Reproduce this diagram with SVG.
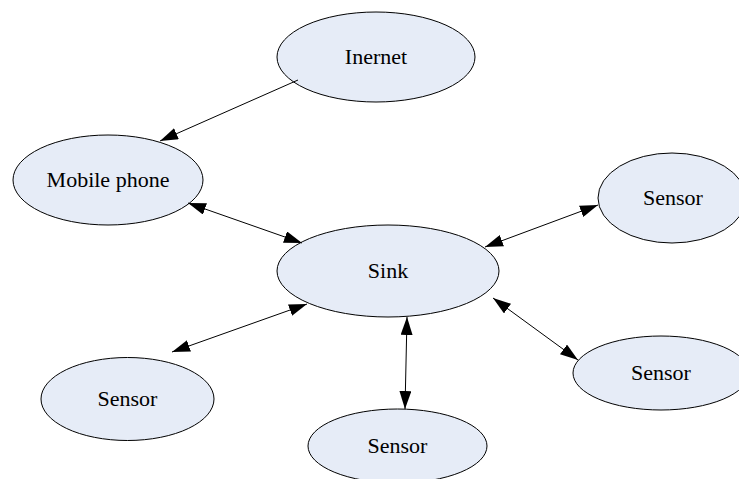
<svg xmlns="http://www.w3.org/2000/svg" width="739" height="479" viewBox="0 0 739 479">
<style>
.node ellipse{fill:#e6ecf7;stroke:#000;stroke-width:1}
.node text{font-family:"Liberation Serif","Times New Roman",serif;font-size:22px;fill:#000;text-anchor:middle}
.edges line{stroke:#000;stroke-width:1}
</style>
<defs>
<marker id="arr" markerUnits="userSpaceOnUse" markerWidth="18" markerHeight="12" viewBox="0 0 18 12" refX="18" refY="6" orient="auto-start-reverse">
<path d="M0,0 L18,6 L0,12 z" fill="#000"/>
</marker>
</defs>
<rect width="739" height="479" fill="#fff"/>
<g id="inernet" class="node"><ellipse cx="376" cy="57" rx="99" ry="45"/><text x="376" y="64">Inernet</text></g>
<g id="mobile" class="node"><ellipse cx="108" cy="180" rx="95" ry="45"/><text x="108" y="187">Mobile phone</text></g>
<g id="sink" class="node"><ellipse cx="388" cy="271" rx="111" ry="46"/><text x="388" y="278">Sink</text></g>
<g id="sensor-rt" class="node"><ellipse cx="672" cy="198" rx="74" ry="45"/><text x="673" y="205">Sensor</text></g>
<g id="sensor-rb" class="node"><ellipse cx="661" cy="373" rx="88" ry="37"/><text x="661" y="380">Sensor</text></g>
<g id="sensor-lb" class="node"><ellipse cx="127.5" cy="399" rx="86.5" ry="41.5"/><text x="127.5" y="406">Sensor</text></g>
<g id="sensor-b" class="node"><ellipse cx="397.5" cy="446" rx="89.5" ry="37"/><text x="397.5" y="453">Sensor</text></g>
<g id="edges" class="edges">
<line x1="298" y1="80" x2="160" y2="141" marker-end="url(#arr)"/>
<line x1="188" y1="203" x2="302" y2="243" marker-start="url(#arr)" marker-end="url(#arr)"/>
<line x1="485" y1="247" x2="598" y2="205" marker-start="url(#arr)" marker-end="url(#arr)"/>
<line x1="493" y1="298" x2="578" y2="360" marker-start="url(#arr)" marker-end="url(#arr)"/>
<line x1="172" y1="352" x2="307" y2="304" marker-start="url(#arr)" marker-end="url(#arr)"/>
<line x1="407" y1="317" x2="405" y2="409" marker-start="url(#arr)" marker-end="url(#arr)"/>
</g>
</svg>
